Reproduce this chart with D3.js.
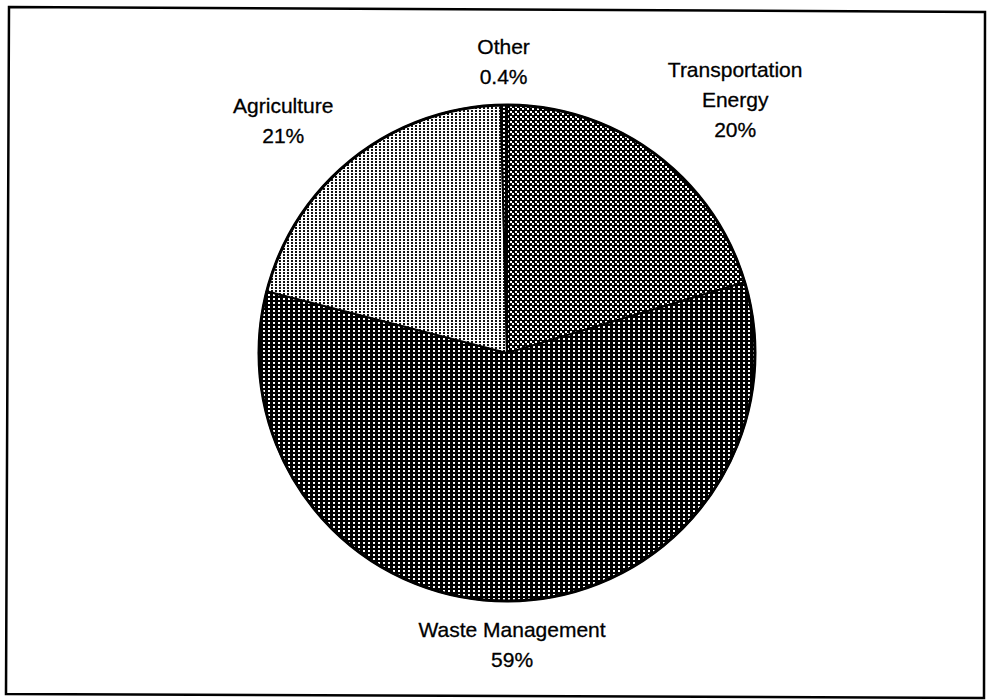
<!DOCTYPE html>
<html>
<head>
<meta charset="utf-8">
<script src="https://cdn.jsdelivr.net/npm/d3@7"></script>
<style>
    body {
        margin: 0;
        background: #fff;
    }

    .slice {
        stroke: #000;
        stroke-width: 2;
        stroke-linejoin: miter;
    }

    .label {
        font-family: 'Liberation Sans', Arial, sans-serif;
        font-size: 21px;
        fill: #000;
        stroke: #000;
        stroke-width: 0.3;
    }
</style>
</head>
<body>
<div id="pie-vis"></div>
<script>
    // slice data, clockwise from 12 o'clock
    let categories = ['Transportation Energy', 'Waste Management', 'Agriculture', 'Other'];
    let labelLines = [
        ['Transportation', 'Energy'],
        ['Waste Management'],
        ['Agriculture'],
        ['Other']
    ];
    let shares = [20.4, 58.6, 20.6, 0.4];
    let fills = ['url(#pat-check)', 'url(#pat-dots)', 'url(#pat-stripe)', 'url(#pat-dots)'];

    let width = 993,
        height = 700,
        centerX = 507,
        centerY = 353,
        radius = 248,
        labelGap = 21,
        lineHeight = 30;

    let svg = d3.select('#pie-vis')
        .append('svg')
        .attr('width', width)
        .attr('height', height);

    let defs = svg.append('defs');

    // hatch patterns like the old printed chart
    function addPattern(id, w, h, bg, fg, rects) {
        let p = defs.append('pattern')
            .attr('id', id)
            .attr('patternUnits', 'userSpaceOnUse')
            .attr('width', w)
            .attr('height', h);
        p.append('rect')
            .attr('width', w)
            .attr('height', h)
            .attr('fill', bg);
        rects.forEach(function(r) {
            p.append('rect')
                .attr('x', r[0])
                .attr('y', r[1])
                .attr('width', r[2])
                .attr('height', r[3])
                .attr('fill', fg)
                .attr('shape-rendering', 'crispEdges');
        });
    }

    addPattern('pat-check', 5, 5, '#000', '#fff', [[0, 0, 2, 2], [3, 3, 2, 2]]);
    addPattern('pat-dots', 5, 4, '#000', '#fff', [[1, 1, 2, 2]]);
    addPattern('pat-stripe', 4, 3, '#fff', '#111', [[0, 0, 2, 2]]);

    // frame (slightly skewed like the scan)
    svg.append('path')
        .attr('d', 'M9,7L985,12L984,698L6,694Z')
        .attr('fill', 'none')
        .attr('stroke', '#000')
        .attr('stroke-width', 2.5);

    let pie = d3.pie()
        .sort(null)
        .value(function(d) {
            return d;
        });

    let arc = d3.arc()
        .innerRadius(0)
        .outerRadius(radius);

    let arcs = pie(shares);

    let pieGroup = svg.append('g')
        .attr('transform', 'translate(' + centerX + ',' + centerY + ')');

    pieGroup.selectAll('path.slice')
        .data(arcs)
        .enter()
        .append('path')
        .attr('class', 'slice')
        .attr('d', arc)
        .attr('fill', function(d, i) {
            return fills[i];
        });

    // thick outer rim
    pieGroup.append('circle')
        .attr('r', radius)
        .attr('fill', 'none')
        .attr('stroke', '#000')
        .attr('stroke-width', 3);

    function fmtShare(v) {
        return v < 1 ? d3.format('.1f')(v) + '%' : Math.round(v) + '%';
    }

    // labels outside the end of each slice
    let labelGroup = svg.append('g');

    arcs.forEach(function(d, i) {
        let lines = labelLines[i].concat([fmtShare(shares[i])]);
        let mid = (d.startAngle + d.endAngle) / 2;
        let px = centerX + (radius + labelGap) * Math.sin(mid);
        let py = centerY - (radius + labelGap) * Math.cos(mid);

        let text = labelGroup.append('text')
            .attr('class', 'label')
            .attr('text-anchor', 'middle');

        let spans = text.selectAll('tspan')
            .data(lines)
            .enter()
            .append('tspan')
            .text(function(t) {
                return t;
            });

        // widest line decides the box width
        let boxW = 0;
        spans.each(function() {
            boxW = Math.max(boxW, this.getComputedTextLength());
        });

        let cx = px;
        if (Math.sin(mid) > 0.3) {
            cx = px + boxW / 2;
        } else if (Math.sin(mid) < -0.3) {
            cx = px - boxW / 2 - 6;
        }

        let firstBase;
        if (Math.cos(mid) > 0) {
            firstBase = py - (lines.length - 1) * lineHeight;
        } else {
            firstBase = py + 15;
        }

        spans
            .attr('x', cx)
            .attr('y', function(t, j) {
                return firstBase + j * lineHeight;
            });
    });
</script>
</body>
</html>
